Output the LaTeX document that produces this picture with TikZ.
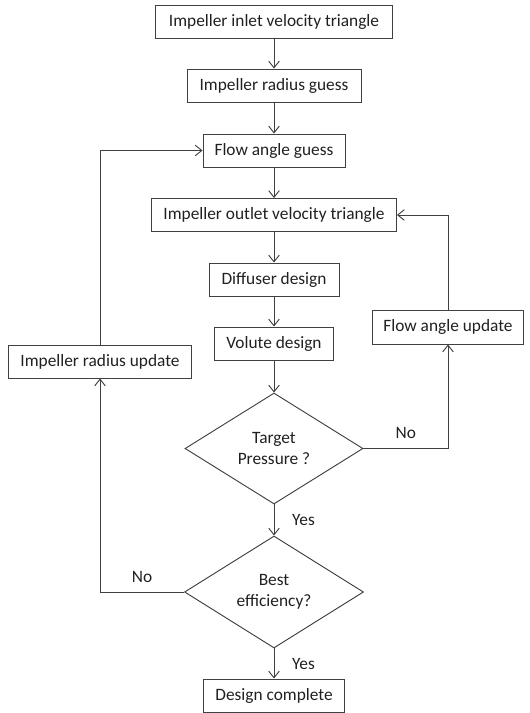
\documentclass[tikz,border=0pt]{standalone}
\usepackage{fontspec}
\setmainfont{Carlito}
\usepackage{xcolor}
\usepackage{tikz}
\usetikzlibrary{arrows.meta,positioning,shapes.geometric}
\definecolor{edge}{HTML}{404040}
\definecolor{ink}{HTML}{202020}

\begin{document}
\begin{tikzpicture}[x=0.75pt,y=-0.75pt,>={Straight Barb[length=5pt,width=8pt]},
  box/.style={draw=edge,line width=0.7pt,minimum height=24.75pt,inner sep=0pt,
    text=ink,font=\fontsize{13}{15}\selectfont},
  decision/.style={draw=edge,line width=0.7pt,diamond,inner sep=0pt,align=center,
    text=ink,font=\fontsize{13}{15.75}\selectfont},
  lab/.style={text=ink,font=\fontsize{13}{15}\selectfont},
  link/.style={draw=edge,line width=0.7pt,->}]
  \useasboundingbox (0,0) rectangle (529,713);
  % main column
  \node[box,minimum width=177.75pt] (inlet)  at (274,21.5)  {Impeller inlet velocity triangle};
  \node[box,minimum width=130.5pt]  (rguess) at (274,85.5)  {Impeller radius guess};
  \node[box,minimum width=106.5pt]  (fguess) at (274,150.5) {Flow angle guess};
  \node[box,minimum width=183.75pt] (outlet) at (274,215)   {Impeller outlet velocity triangle};
  \node[box,minimum width=97.5pt]   (diff)   at (274,279.5) {Diffuser design};
  \node[box,minimum width=89.25pt]  (volute) at (274,343.5) {Volute design};
  \node[decision,minimum width=133.5pt,minimum height=83.25pt] (press) at (274,448.5)
    {Target\\Pressure ?};
  \node[decision,minimum width=134.25pt,minimum height=84pt] (eff) at (274,592)
    {Best\\efficiency?};
  \node[box,minimum width=105.75pt] (done) at (274,695.5) {Design complete};
  % side boxes
  \node[box,minimum width=137.25pt] (rupd) at (100,361.5) {Impeller radius update};
  \node[box,minimum width=113.25pt,minimum height=25.5pt] (fupd) at (448,327) {Flow angle update};

  \foreach \a/\b in {inlet/rguess,rguess/fguess,fguess/outlet,outlet/diff,diff/volute,volute/press}{
    \draw[link] (\a) -- (\b);
  }
  \draw[link] (press) -- node[lab,right=10pt]{Yes} (eff);
  \draw[link] (eff) -- node[lab,right=10pt]{Yes} (done);
  % loops
  \draw[link] (press.east) -| node[lab,pos=0.25,above=3.5pt]{No} (fupd.south);
  \draw[link] (fupd.north) |- (outlet.east);
  \draw[link] (eff.west) -| node[lab,pos=0.25,above=3.5pt]{No} (rupd.south);
  \draw[link] (rupd.north) |- (fguess.west);
\end{tikzpicture}
\end{document}
